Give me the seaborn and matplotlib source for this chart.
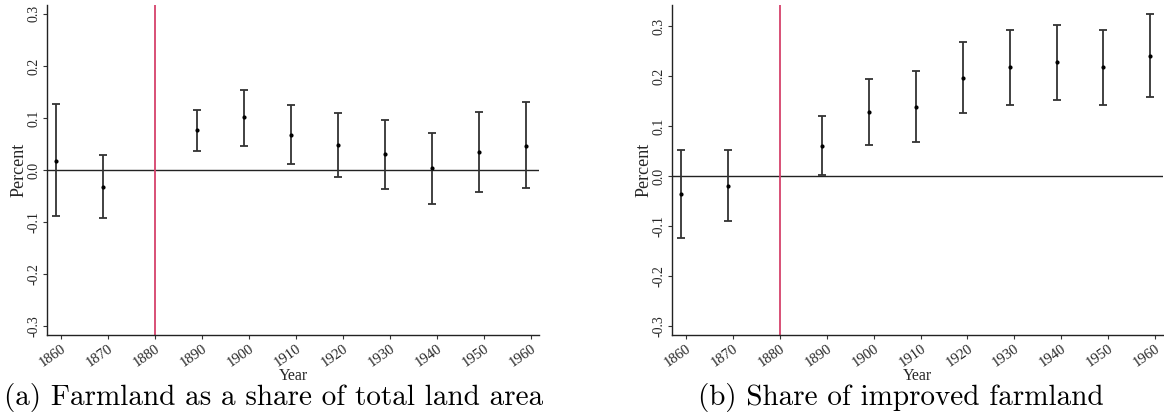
import matplotlib
matplotlib.use("Agg")
import matplotlib.pyplot as plt
import seaborn as sns
import pandas as pd

# Event-study coefficients with 95% confidence bounds, by census decade
decades = [1860, 1870, 1890, 1900, 1910, 1920, 1930, 1940, 1950, 1960]

farm_share_coef = [0.018, -0.032, 0.076, 0.101, 0.068, 0.048, 0.031, 0.003, 0.035, 0.047]
farm_share_lo = [-0.088, -0.092, 0.037, 0.047, 0.011, -0.013, -0.036, -0.065, -0.042, -0.035]
farm_share_hi = [0.126, 0.028, 0.115, 0.154, 0.124, 0.110, 0.097, 0.071, 0.111, 0.131]

improved_coef = [-0.035, -0.019, 0.061, 0.129, 0.139, 0.197, 0.218, 0.228, 0.219, 0.241]
improved_lo = [-0.123, -0.090, 0.003, 0.063, 0.068, 0.127, 0.142, 0.153, 0.143, 0.158]
improved_hi = [0.053, 0.053, 0.121, 0.195, 0.211, 0.269, 0.293, 0.303, 0.293, 0.324]

tick_years = [1860, 1870, 1880, 1890, 1900, 1910, 1920, 1930, 1940, 1950, 1960]
y_ticks = [-0.3, -0.2, -0.1, 0.0, 0.1, 0.2, 0.3]
event_year = 1880
captions = ["(a) Farmland as a share of total land area", "(b) Share of improved farmland"]

sns.set_theme(style="ticks")
plt.rcParams["font.family"] = ["Liberation Serif", "DejaVu Serif"]

W, H = 1164, 417
fig = plt.figure(figsize=(W / 100, H / 100), dpi=100)

# axes boxes in pixels: left, top, right, bottom
boxes = [(47, 5, 539, 335), (672, 5, 1163, 335)]
ylims = [(-0.317, 0.317), (-0.318, 0.342)]
panels = [
    (farm_share_coef, farm_share_lo, farm_share_hi),
    (improved_coef, improved_lo, improved_hi),
]
caption_x = [274, 901]

for (l, t, r, b), ylim, (coef, lo, hi), cap, cx in zip(boxes, ylims, panels, captions, caption_x):
    ax = fig.add_axes([l / W, 1 - b / H, (r - l) / W, (b - t) / H])
    df = pd.DataFrame({"year": [d - 1 for d in decades], "coef": coef, "lo": lo, "hi": hi})

    ax.axhline(0, color="#222222", lw=1.0, zorder=1)
    ax.axvline(event_year, color="#d6416b", lw=1.3, zorder=1)
    ax.errorbar(df["year"], df["coef"],
                yerr=[df["coef"] - df["lo"], df["hi"] - df["coef"]],
                fmt="none", ecolor="#333333", elinewidth=1.3, capsize=3, capthick=1.3, zorder=2)
    sns.scatterplot(data=df, x="year", y="coef", ax=ax, color="black", s=9,
                    edgecolor="black", linewidth=0, zorder=3)

    ax.set_xlim(1857.0, 1961.7)
    ax.set_ylim(*ylim)
    ax.set_xticks(tick_years)
    ax.set_xticklabels([str(y) for y in tick_years], rotation=35, ha="right",
                       rotation_mode="anchor", fontsize=10.5)
    ax.set_yticks(y_ticks)
    ax.set_yticklabels([f"{v:.1f}" for v in y_ticks], rotation=90, va="center", fontsize=10)
    ax.tick_params(axis="both", length=3, width=0.8, pad=2, color="#333333")
    ax.set_xlabel("Year", fontsize=11.5, labelpad=-1)
    ax.set_ylabel("Percent", fontsize=13, labelpad=0)
    sns.despine(ax=ax)
    for s in ("left", "bottom"):
        ax.spines[s].set_linewidth(1.0)
        ax.spines[s].set_color("#222222")

    fig.text(cx / W, 1 - 397 / H, cap, ha="center", va="center", fontsize=21,
             family="cmr10", color="black")

fig.savefig("out.png", dpi=100)
